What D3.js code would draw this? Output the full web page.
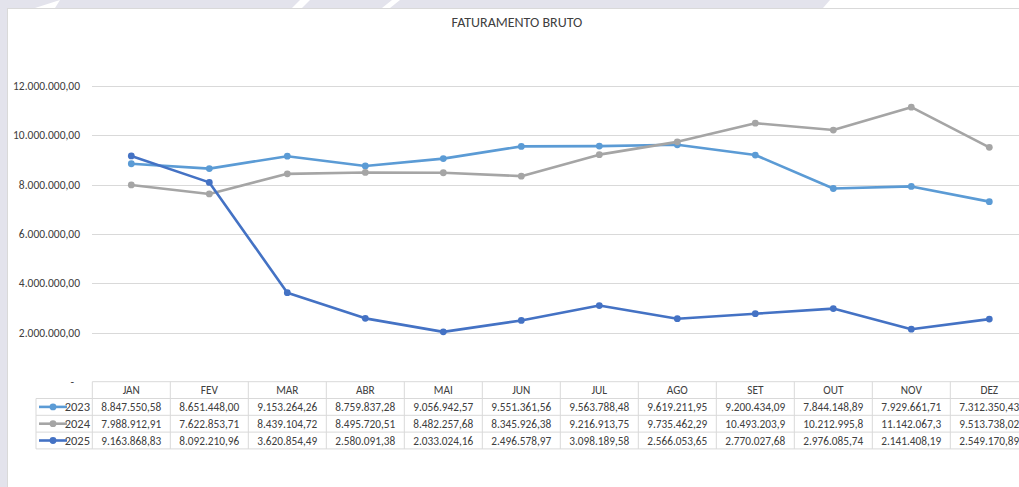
<!DOCTYPE html>
<html>
<head>
<meta charset="utf-8">
<script src="https://cdn.jsdelivr.net/npm/d3@7"></script>
<style>
	body { margin: 0; background: #fff; }
	svg { display: block; font-family: Carlito, "Liberation Sans Narrow", "Liberation Sans", sans-serif; }
</style>
</head>
<body>
<svg id="chart" width="1019" height="487"></svg>
<script>
var months = ["JAN","FEV","MAR","ABR","MAI","JUN","JUL","AGO","SET","OUT","NOV","DEZ"]
var years = ["2023","2024","2025"]
var v2023 = [8847550.58, 8651448.00, 9153264.26, 8759837.28, 9056942.57, 9551361.56, 9563788.48, 9619211.95, 9200434.09, 7844148.89, 7929661.71, 7312350.43]
var v2024 = [7988912.91, 7622853.71, 8439104.72, 8495720.51, 8482257.68, 8345926.38, 9216913.75, 9735462.29, 10493203.9, 10212995.8, 11142067.3, 9513738.02]
var v2025 = [9163868.83, 8092210.96, 3620854.49, 2580091.38, 2033024.16, 2496578.97, 3098189.58, 2566053.65, 2770027.68, 2976085.74, 2141408.19, 2549170.89]
var yTicks = [0, 2000000, 4000000, 6000000, 8000000, 10000000, 12000000]
var colors = ["#5b9bd5", "#a5a5a5", "#4472c4"]

var series = [
	{"year": years[0], "values": v2023, "color": colors[0]},
	{"year": years[1], "values": v2024, "color": colors[1]},
	{"year": years[2], "values": v2025, "color": colors[2]}
]

var svg = d3.select("#chart")

// background watermark band
var bg = svg.append("g")
bg.append("rect").attr("x", 0).attr("y", 0).attr("width", 1019).attr("height", 487).attr("fill", "#e3e3ec")
bg.append("rect").attr("x", 8).attr("y", 8).attr("width", 1011).attr("height", 479).attr("fill", "#fff")
;[[35, 60, 55, 60], [292, 300, 302, 310], [382, 392, 390, 400], [823, 830, 1019, 1019]].forEach(function(p){
	bg.append("path")
		.attr("d", "M" + p[0] + ",8L" + p[1] + ",0L" + p[3] + ",0L" + p[2] + ",8Z")
		.attr("fill", "#fff")
})
svg.append("line").attr("x1", 7.5).attr("x2", 7.5).attr("y1", 8).attr("y2", 487).attr("stroke", "#d9d9d9")
svg.append("line").attr("x1", 7.5).attr("x2", 1019).attr("y1", 8.5).attr("y2", 8.5).attr("stroke", "#d9d9d9")

svg.append("text")
	.attr("x", 517).attr("y", 27)
	.attr("text-anchor", "middle")
	.attr("font-size", "14px")
	.attr("fill", "#404040")
	.text("FATURAMENTO BRUTO")

var colW = 78
var x = d3.scaleBand().domain(months).range([92.3, 92.3 + colW * months.length])
var y = d3.scaleLinear().domain([0, 12000000]).range([382, 86])

var fmt = d3.formatLocale({"decimal": ",", "thousands": ".", "grouping": [3], "currency": ["", ""]})
var f2 = fmt.format(",.2f")

// gridlines + y labels
var grid = svg.append("g")
grid.selectAll(".grid")
	.data(yTicks.filter(function(d){ return d > 0 }))
	.enter().append("line")
	.attr("x1", 92).attr("x2", 1019)
	.attr("y1", function(d){ return Math.round(y(d)) + 0.5 })
	.attr("y2", function(d){ return Math.round(y(d)) + 0.5 })
	.attr("stroke", "#d9d9d9")
grid.selectAll(".ylab")
	.data(yTicks)
	.enter().append("text")
	.attr("x", function(d){ return d === 0 ? 74 : 80 })
	.attr("y", function(d){ return y(d) + 4 })
	.attr("text-anchor", "end")
	.attr("font-size", "11.5px")
	.attr("fill", "#404040")
	.text(function(d){ return d === 0 ? "-" : f2(d) })

// lines
var line = d3.line()
	.x(function(d, i){ return x(months[i]) + x.bandwidth() / 2 })
	.y(function(d){ return y(d) })

var sg = svg.selectAll(".serie")
	.data(series)
	.enter().append("g")
	.attr("class", "serie")
sg.append("path")
	.attr("d", function(d){ return line(d.values) })
	.attr("fill", "none")
	.attr("stroke", function(d){ return d.color })
	.attr("stroke-width", 2.6)
	.attr("stroke-linejoin", "round")
sg.selectAll("circle")
	.data(function(d){ return d.values.map(function(v){ return {"v": v, "c": d.color} }) })
	.enter().append("circle")
	.attr("cx", function(d, i){ return x(months[i]) + x.bandwidth() / 2 })
	.attr("cy", function(d){ return y(d.v) })
	.attr("r", 3.4)
	.attr("fill", function(d){ return d.c })

// data table
var rowTop = 381.7, rowH = 16.8, legX = 36
var tbl = svg.append("g").attr("font-size", "11.3px").attr("fill", "#404040")
var bc = "#d9d9d9"
d3.range(5).forEach(function(r){
	tbl.append("line")
		.attr("x1", r === 0 ? 92.3 : legX).attr("x2", 1019)
		.attr("y1", rowTop + r * rowH).attr("y2", rowTop + r * rowH)
		.attr("stroke", bc)
})
tbl.append("line").attr("x1", legX).attr("x2", legX).attr("y1", rowTop + rowH).attr("y2", rowTop + 4 * rowH).attr("stroke", bc)
months.forEach(function(m){
	tbl.append("line").attr("x1", x(m)).attr("x2", x(m)).attr("y1", rowTop).attr("y2", rowTop + 4 * rowH).attr("stroke", bc)
})
tbl.selectAll(".mh")
	.data(months)
	.enter().append("text")
	.attr("x", function(d){ return x(d) + x.bandwidth() / 2 })
	.attr("y", rowTop + rowH / 2 + 4)
	.attr("text-anchor", "middle")
	.text(function(d){ return d })

// values too wide for the cell lose a decimal, like in the sheet
var nf = function(v){
	if (v >= 10000000) return fmt.format(",.1f")(v)
	return f2(v)
}

series.forEach(function(s, r){
	var cy = rowTop + (r + 1) * rowH + rowH / 2
	tbl.append("line").attr("x1", 39).attr("x2", 67).attr("y1", cy).attr("y2", cy)
		.attr("stroke", s.color).attr("stroke-width", 2.6)
	tbl.append("circle").attr("cx", 53).attr("cy", cy).attr("r", 3.4).attr("fill", s.color)
	tbl.append("text").attr("x", 90).attr("y", cy + 4).attr("text-anchor", "end")
		.attr("font-size", "12.5px").text(s.year)
	tbl.selectAll(".v" + r)
		.data(s.values)
		.enter().append("text")
		.attr("x", function(d, i){ return x(months[i]) + x.bandwidth() / 2 })
		.attr("y", cy + 4)
		.attr("text-anchor", "middle")
		.text(function(d){ return nf(d) })
})
</script>
</body>
</html>
